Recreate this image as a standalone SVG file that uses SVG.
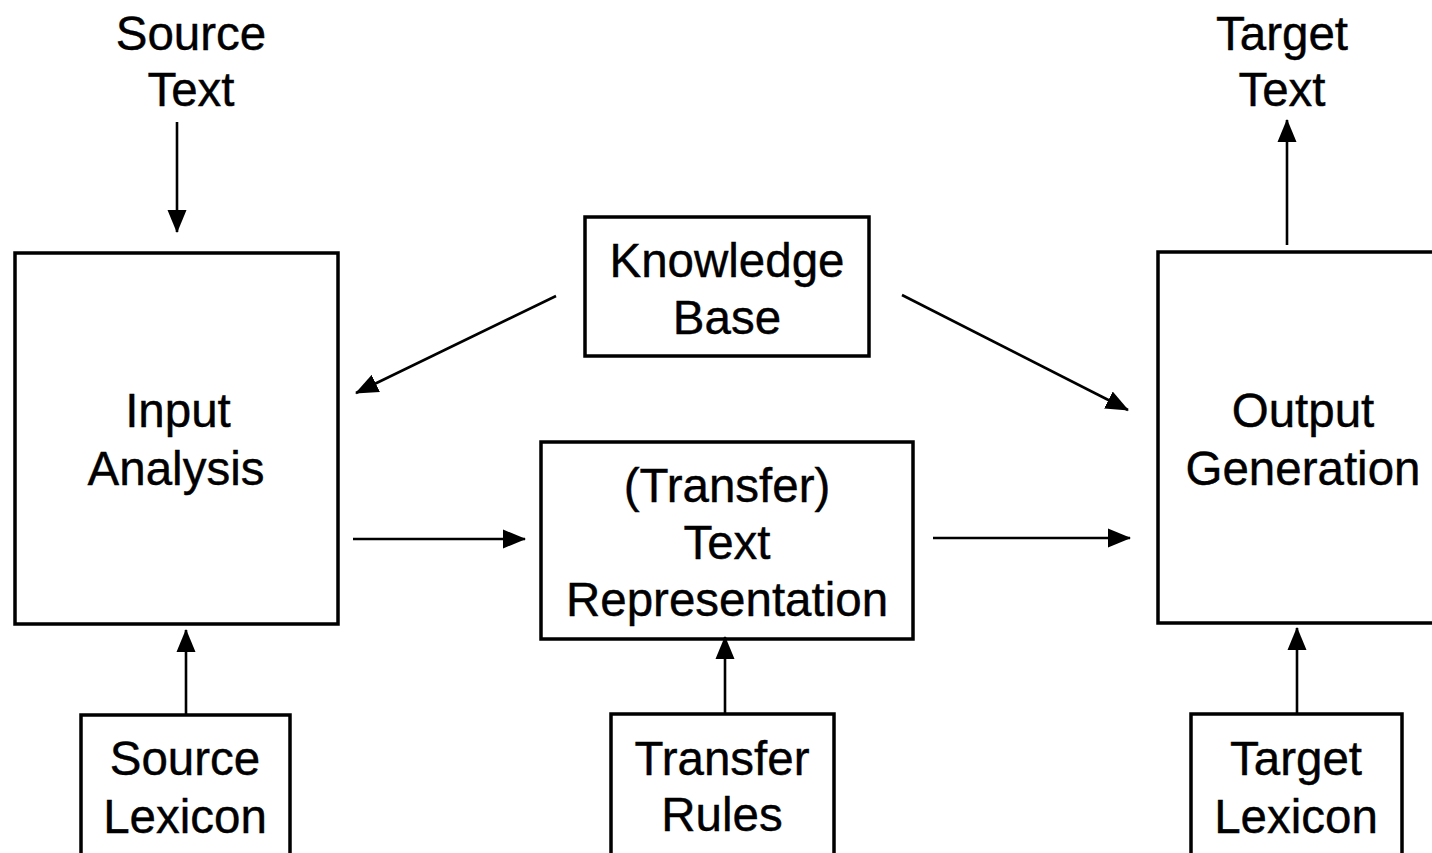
<svg xmlns="http://www.w3.org/2000/svg" width="1432" height="853" viewBox="0 0 1432 853">
<style>
.box{fill:#fff;stroke:#000;stroke-width:3.5}
.lbl{font-family:"Liberation Sans",Arial,sans-serif;font-size:47.5px;fill:#000;text-anchor:middle;stroke:#000;stroke-width:0.4}
.con{stroke:#000;stroke-width:2.6;fill:none;marker-end:url(#ah)}
</style>
<defs>
<marker id="ah" markerUnits="userSpaceOnUse" markerWidth="24" markerHeight="20" refX="22" refY="10" orient="auto">
<path d="M0,0.5 L23,10 L0,19.5 Z" fill="#000"/>
</marker>
</defs>
<rect width="1432" height="853" fill="#fff"/>
<g id="source-text"><text class="lbl" x="191" y="50">Source</text><text class="lbl" x="191" y="106">Text</text></g>
<g id="target-text"><text class="lbl" x="1282" y="50">Target</text><text class="lbl" x="1282" y="106">Text</text></g>
<g id="input-analysis"><rect class="box" x="15" y="253" width="323" height="371"/><text class="lbl" x="178" y="427">Input</text><text class="lbl" x="176" y="485">Analysis</text></g>
<g id="knowledge-base"><rect class="box" x="585" y="217" width="284" height="139"/><text class="lbl" x="727" y="277">Knowledge</text><text class="lbl" x="727" y="334">Base</text></g>
<g id="text-representation"><rect class="box" x="541" y="442" width="372" height="197"/><text class="lbl" x="727" y="502">(Transfer)</text><text class="lbl" x="727" y="559">Text</text><text class="lbl" x="727" y="616">Representation</text></g>
<g id="output-generation"><rect class="box" x="1158" y="252" width="290" height="371"/><text class="lbl" x="1303" y="427">Output</text><text class="lbl" x="1303" y="485">Generation</text></g>
<g id="source-lexicon"><rect class="box" x="81" y="715" width="209" height="160"/><text class="lbl" x="185" y="775">Source</text><text class="lbl" x="185" y="833">Lexicon</text></g>
<g id="transfer-rules"><rect class="box" x="611" y="714" width="223" height="160"/><text class="lbl" x="722" y="775">Transfer</text><text class="lbl" x="722" y="831">Rules</text></g>
<g id="target-lexicon"><rect class="box" x="1191" y="714" width="211" height="160"/><text class="lbl" x="1296" y="775">Target</text><text class="lbl" x="1296" y="833">Lexicon</text></g>
<g id="connectors">
<line class="con" x1="177" y1="122" x2="177" y2="232"/>
<line class="con" x1="1287" y1="245" x2="1287" y2="120"/>
<line class="con" x1="556" y1="296" x2="356" y2="393"/>
<line class="con" x1="902" y1="295" x2="1128" y2="410"/>
<line class="con" x1="353" y1="539" x2="525" y2="539"/>
<line class="con" x1="933" y1="538" x2="1130" y2="538"/>
<line class="con" x1="186" y1="714" x2="186" y2="630"/>
<line class="con" x1="725" y1="714" x2="725" y2="637"/>
<line class="con" x1="1297" y1="713" x2="1297" y2="628"/>
</g>
</svg>
